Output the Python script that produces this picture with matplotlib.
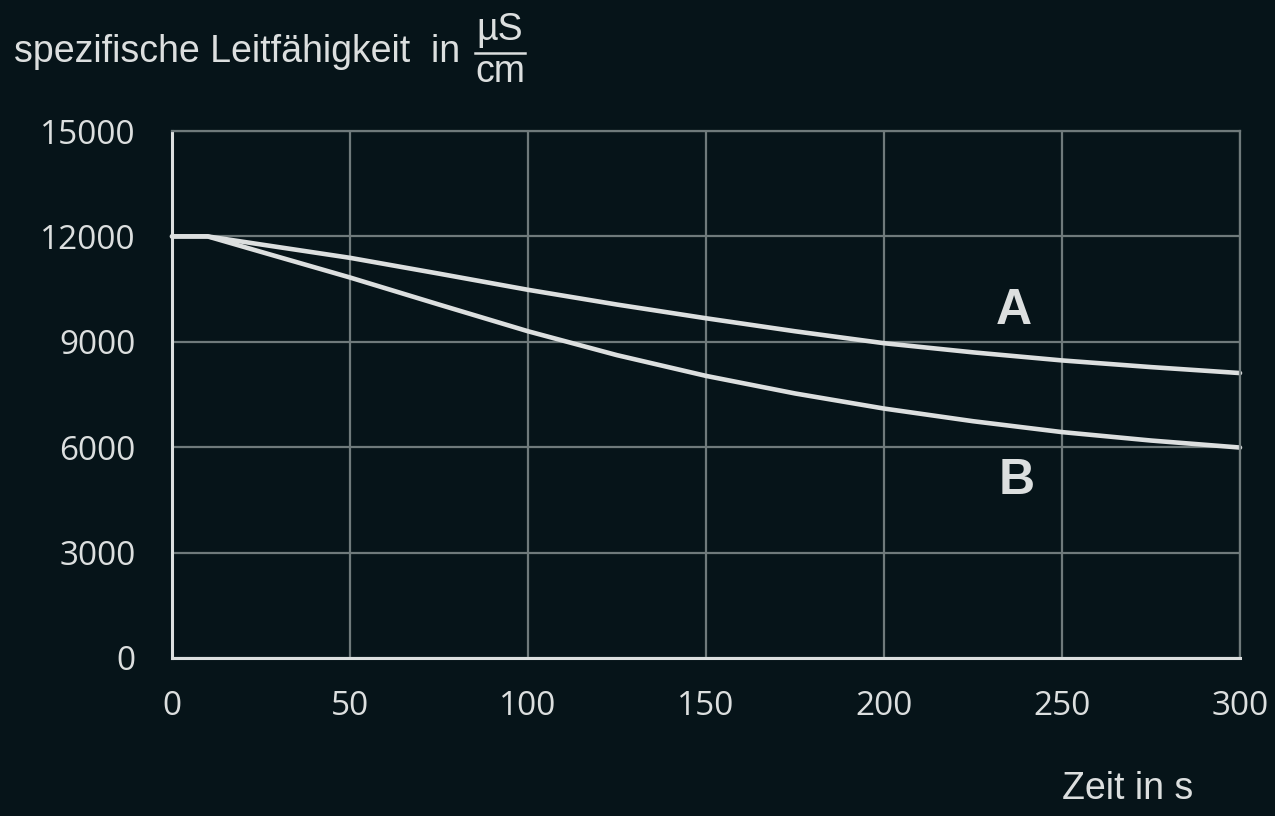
import matplotlib.pyplot as plt
from matplotlib.lines import Line2D

# values
zeit = [0, 10, 25, 50, 75, 100, 125, 150, 175, 200, 225, 250, 275, 300]
kurve_a = [12000, 12000, 11770, 11390, 10940, 10480, 10060, 9670, 9300, 8960, 8700, 8470, 8280, 8110]
kurve_b = [12000, 12000, 11560, 10830, 10060, 9300, 8620, 8030, 7530, 7100, 6740, 6430, 6190, 5990]
xticks = [0, 50, 100, 150, 200, 250, 300]
yticks = [0, 3000, 6000, 9000, 12000, 15000]

bg = "#061419"
hell = "#dcdfdf"
grau = "#6f7a7b"

fig = plt.figure(figsize=(12.75, 8.16), dpi=100, facecolor=bg)
ax = fig.add_axes([172/1275, 1-658/816, (1240-172)/1275, (658-131)/816])
ax.set_facecolor(bg)

ax.set_xlim(0, 300)
ax.set_ylim(0, 15000)
ax.set_xticks(xticks)
ax.set_yticks(yticks)
ax.grid(True, color=grau, linewidth=1.6)
ax.set_axisbelow(True)

for s in ["top", "right"]:
    ax.spines[s].set_color(grau)
    ax.spines[s].set_linewidth(1.6)
for s in ["left", "bottom"]:
    ax.spines[s].set_color(hell)
    ax.spines[s].set_linewidth(2.2)

ax.tick_params(length=0, colors=hell, labelsize=24)
ax.tick_params(axis="y", pad=26)
ax.tick_params(axis="x", pad=23)
for lab in ax.get_xticklabels() + ax.get_yticklabels():
    lab.set_family("Open Sans")

ax.plot(zeit, kurve_a, color=hell, linewidth=3.3, solid_capstyle="round", solid_joinstyle="round", clip_on=False)
ax.plot(zeit, kurve_b, color=hell, linewidth=3.3, solid_capstyle="round", solid_joinstyle="round", clip_on=False)

ax.text(236.5, 9880, "A", color=hell, fontsize=36, fontweight="bold", family="Liberation Sans", ha="center", va="center")
ax.text(237.2, 5040, "B", color=hell, fontsize=36, fontweight="bold", family="Liberation Sans", ha="center", va="center")

# title with fraction
fig.text(14/1275, 1-52/816, "spezifische Leitfähigkeit  in", color=hell, fontsize=27,
         family="Liberation Sans", ha="left", va="center")
fig.text(500/1275, 1-30/816, "µS", color=hell, fontsize=27, family="Liberation Sans", ha="center", va="center")
fig.text(500/1275, 1-72/816, "cm", color=hell, fontsize=27, family="Liberation Sans", ha="center", va="center")
fig.add_artist(Line2D([475/1275, 525/1275], [1-53/816, 1-53/816], color=hell, linewidth=1.8))

fig.text(1128/1275, 1-789/816, "Zeit in s", color=hell, fontsize=27, family="Liberation Sans",
         ha="center", va="center")

fig.savefig("out.png", dpi=100, facecolor=bg)
